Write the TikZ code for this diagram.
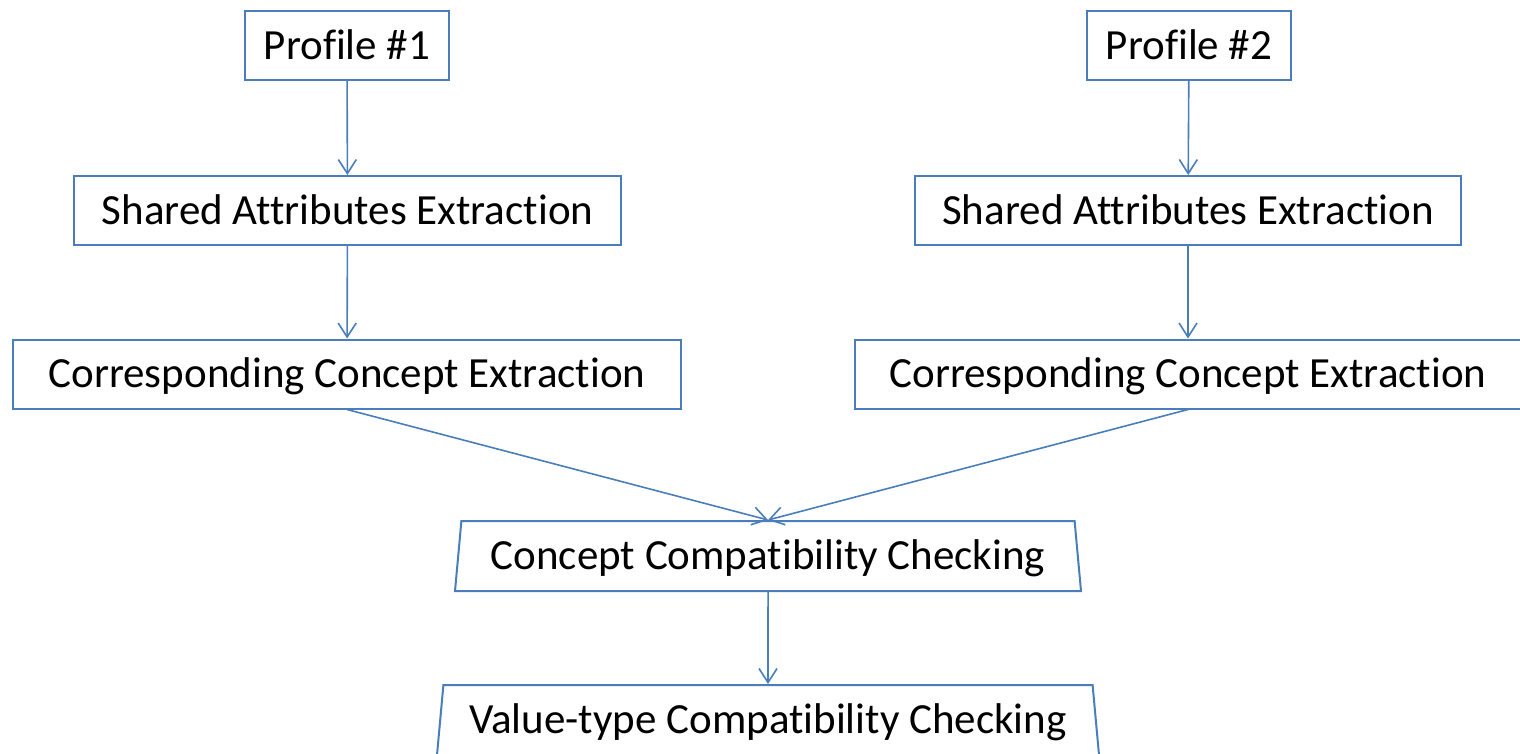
\documentclass[tikz,border=0pt]{standalone}
\usepackage{fontspec}
\setmainfont[Ligatures=NoCommon]{Carlito}
\usetikzlibrary{arrows.meta,shapes.geometric}
\definecolor{edge}{HTML}{4A7EBB}
\tikzset{
  stagebox/.style={draw=edge, line width=2pt, rectangle, inner sep=0pt,
    text height=27.7pt, text depth=0pt, minimum height=69pt,
    font=\fontsize{43}{51}\selectfont},
  checkbox/.style={draw=edge, line width=2pt, trapezium, trapezium stretches body,
    trapezium left angle=77, trapezium right angle=77, inner sep=0pt,
    text height=27.7pt, text depth=0pt, minimum height=70pt,
    font=\fontsize{43}{51}\selectfont},
  flow/.style={draw=edge, line width=1.6pt, -{Straight Barb[length=14pt,width=18pt,line width=1.6pt]}},
}
\begin{document}
\begin{tikzpicture}[x=1pt,y=-1pt]
\useasboundingbox (0,0) rectangle (1520,753);
% left branch
\node[stagebox, minimum width=204pt] (p1) at (347,45.5) {Profile \#1};
\node[stagebox, minimum width=547pt] (s1) at (347.5,210.5) {Shared Attributes Extraction};
\node[stagebox, minimum width=668pt] (c1) at (347,374) {Corresponding Concept Extraction};
% right branch
\node[stagebox, minimum width=204pt] (p2) at (1189,45.5) {Profile \#2};
\node[stagebox, minimum width=546pt] (s2) at (1188,210.5) {Shared Attributes Extraction};
\node[stagebox, minimum width=666pt] (c2) at (1188,374) {Corresponding Concept Extraction};
% merged checks
\node[checkbox, minimum width=626pt] (cc) at (768,556) {Concept Compatibility Checking};
\node[checkbox, minimum width=662pt] (vc) at (768,720) {Value-type Compatibility Checking};
% connectors
\draw[flow] (p1) -- (s1);
\draw[flow] (s1) -- (c1);
\draw[flow] (p2) -- (s2);
\draw[flow] (s2) -- (c2);
\draw[flow] (c1.south) -- (cc.north);
\draw[flow] (c2.south) -- (cc.north);
\draw[flow] (cc) -- (vc);
\end{tikzpicture}
\end{document}
